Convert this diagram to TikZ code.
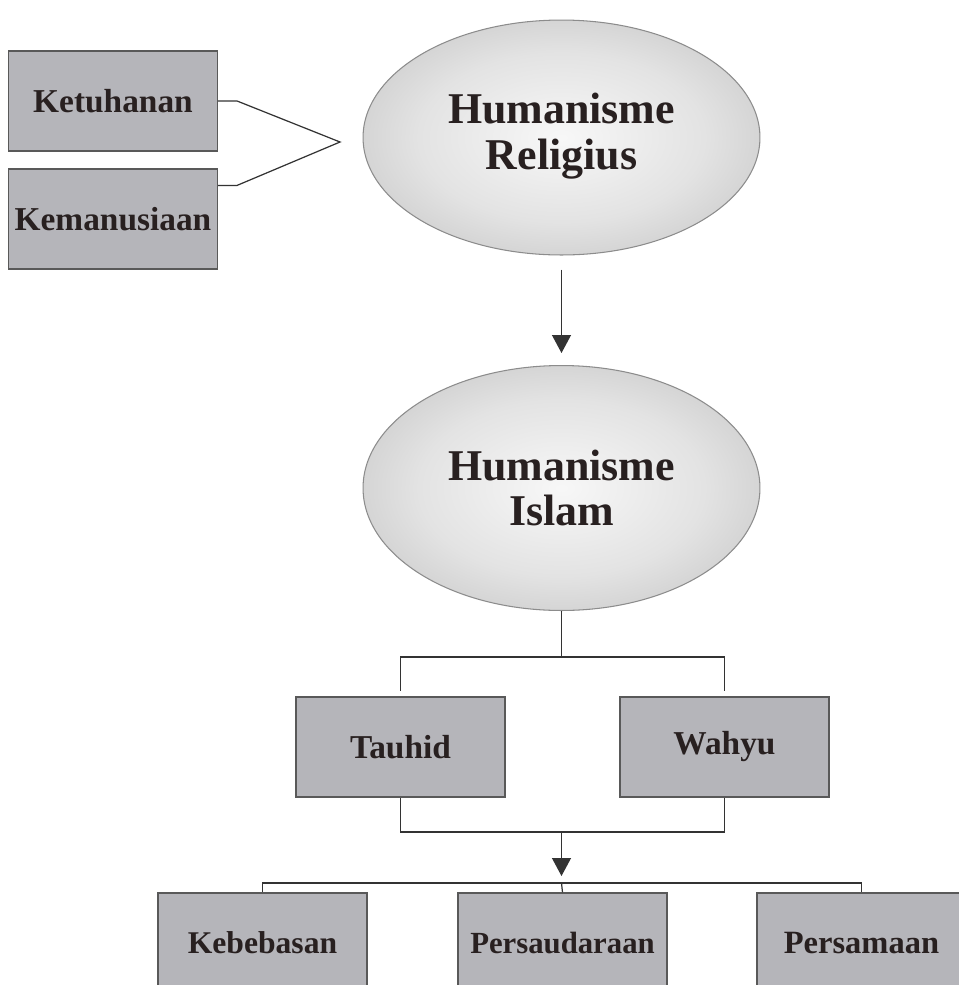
\documentclass[tikz,border=0pt]{standalone}
\usepackage{fontspec}
\setmainfont{Liberation Serif}
\usetikzlibrary{shapes.geometric,arrows.meta}
\definecolor{boxgray}{RGB}{181,181,186}
\definecolor{inkgray}{RGB}{40,32,32}
\pgfdeclareradialshading{ovalgray}{\pgfpoint{0bp}{0bp}}{color(0bp)=(white!97!black); color(18bp)=(white!89!black); color(32bp)=(white!78!black); color(42bp)=(white!66!black); color(48bp)=(white!54!black); color(50bp)=(white!48!black)}

\begin{document}
\begin{tikzpicture}[x=0.02cm, y=-0.02cm]
% Styles
\tikzset{
    box/.style={draw=black!65, fill=boxgray, line width=0.7pt, minimum width=4.18cm, minimum height=2cm, inner sep=0pt, text=inkgray, font=\fontsize{19}{22}\selectfont\bfseries},
    oval/.style={ellipse, draw=black!45, line width=0.6pt, shading=ovalgray, minimum width=7.94cm, inner sep=0pt, align=center, text=inkgray, font=\fontsize{25}{26}\selectfont\bfseries},
    link/.style={draw=black!80, line width=0.7pt},
    arrow/.style={link, -{Triangle[width=0.38cm,length=0.36cm]}}
}
\useasboundingbox (0,0) rectangle (959,985);

% Nodes
\node[box] (KET) at (113,101) {Ketuhanan};
\node[box] (KEM) at (113,219) {Kemanusiaan};
\node[oval, minimum height=4.7cm] (HR) at (561.5,137.5) {\raisebox{0.16cm}{\begin{tabular}{@{}c@{}}Humanisme\\Religius\end{tabular}}};
\node[oval, minimum height=4.9cm] (HI) at (561.5,488) {Humanisme\\Islam};
\node[box] (TAU) at (400.5,747) {Tauhid};
\node[box] (WAH) at (724.5,747) {Wahyu};
\node[box, font=\fontsize{18}{21}\selectfont\bfseries] (KEB) at (262.5,943) {Kebebasan};
\node[box, font=\fontsize{17.5}{21}\selectfont\bfseries] (PSD) at (562.5,943) {Persaudaraan};
\node[box, font=\fontsize{18.5}{21}\selectfont\bfseries] (PSM) at (861.5,943) {Persamaan};

\coordinate (TIP) at (340,142);
\coordinate (SPLIT) at (561.5,657);
\coordinate (JOIN) at (561.5,832);
\coordinate (FAN) at (561.5,883);

% Connections
\draw[link] (KET.east) -- ++(19,0) -- (TIP) -- ([shift={(19,17)}]KEM.north east) -- ([shift={(0,17)}]KEM.north east);
\draw[arrow, shorten <=0.28cm, shorten >=0.24cm] (HR.south) -- (HI.north);

\draw[link] (HI.south) -- (SPLIT);
\draw[link, shorten >=0.1cm] (SPLIT) -| (TAU.north);
\draw[link, shorten >=0.1cm] (SPLIT) -| (WAH.north);
\draw[link] (TAU.south) |- (JOIN) -| (WAH.south);
\draw[arrow, shorten >=0.14cm] (JOIN) -- (FAN);

\draw[link] (KEB.north) |- (FAN) -| (PSM.north);
\draw[link] (FAN) -- (PSD.north);
\end{tikzpicture}
\end{document}
